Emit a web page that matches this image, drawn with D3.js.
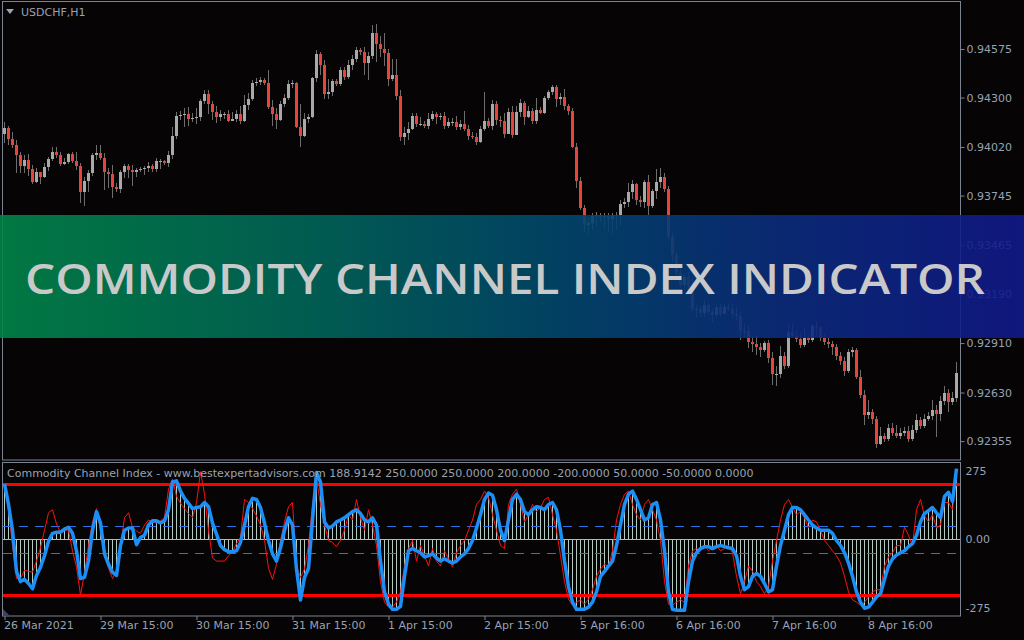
<!DOCTYPE html>
<html>
<head>
<meta charset="utf-8">
<script src="https://cdn.jsdelivr.net/npm/d3@7/dist/d3.min.js"></script>
<style>
  html, body { margin: 0; padding: 0; background: #060404; overflow: hidden; }
  svg { display: block; }
</style>
</head>
<body>
<script>
// ---- data (prices in points, 1 point = 0.00001) ----
const symbol = "USDCHF,H1";
const firstOpen = 94093;
const closes = [
  94128, 94065, 94032, 93975, 93912, 93946, 93895, 93822, 93879, 93850,
  93906, 93952, 93992, 93975, 93923, 93935, 93980, 93940, 93912, 93766,
  93827, 93873, 93975, 93986, 93958, 93879, 93867, 93793, 93782, 93879,
  93912, 93890, 93879, 93890, 93895, 93901, 93912, 93895, 93940, 93940,
  93929, 93975, 94082, 94195, 94201, 94206, 94178, 94184, 94189, 94280,
  94320, 94263, 94218, 94189, 94206, 94206, 94167, 94178, 94206, 94167,
  94258, 94292, 94382, 94388, 94399, 94382, 94246, 94206, 94173, 94263,
  94298, 94376, 94382, 94133, 94082, 94178, 94189, 94411, 94546, 94484,
  94320, 94332, 94393, 94376, 94456, 94416, 94484, 94518, 94569, 94558,
  94495, 94535, 94665, 94603, 94575, 94552, 94405, 94428, 94309, 94076,
  94099, 94122, 94195, 94150, 94150, 94139, 94178, 94206, 94189, 94195,
  94139, 94162, 94162, 94133, 94150, 94122, 94082, 94076, 94049, 94122,
  94167, 94139, 94263, 94173, 94167, 94093, 94218, 94088, 94218, 94269,
  94189, 94223, 94167, 94229, 94212, 94298, 94332, 94359, 94292, 94303,
  94252, 94223, 94020, 93827, 93675, 93579, 93590, 93629, 93635, 93623,
  93629, 93612, 93635, 93635, 93697, 93709, 93766, 93810, 93720, 93709,
  93822, 93686, 93771, 93822, 93850, 93782, 93510, 93409, 93307, 93239,
  93284, 93227, 93103, 93103, 93080, 93126, 93086, 93069, 93114, 93074,
  93114, 93103, 93074, 93063, 92978, 92978, 92917, 92905, 92888, 92871,
  92911, 92826, 92735, 92735, 92837, 92780, 92973, 92950, 92933, 92900,
  92939, 92928, 93007, 93001, 92939, 92917, 92905, 92888, 92837, 92808,
  92752, 92860, 92871, 92718, 92617, 92503, 92520, 92480, 92339, 92384,
  92367, 92430, 92401, 92384, 92401, 92412, 92367, 92418, 92475, 92441,
  92480, 92497, 92531, 92508, 92582, 92628, 92577, 92600, 92741
];
const highs = [
  94162, 94139, 94105, 94060, 93992, 93975, 93980, 93918, 93901, 93879,
  93929, 93963, 94020, 94020, 93992, 93958, 93986, 93992, 93992, 93929,
  93850, 93890, 93986, 94032, 94032, 93986, 93901, 93918, 93816, 93890,
  93923, 93923, 93918, 93901, 93906, 93912, 93935, 93923, 93958, 93952,
  93946, 93997, 94133, 94218, 94223, 94241, 94246, 94212, 94241, 94292,
  94343, 94343, 94280, 94252, 94229, 94218, 94229, 94218, 94229, 94252,
  94315, 94326, 94399, 94411, 94416, 94411, 94456, 94286, 94241, 94280,
  94320, 94399, 94399, 94388, 94263, 94212, 94206, 94416, 94569, 94558,
  94512, 94405, 94405, 94405, 94472, 94472, 94512, 94541, 94586, 94581,
  94586, 94558, 94711, 94716, 94648, 94665, 94575, 94518, 94518, 94343,
  94133, 94162, 94212, 94212, 94189, 94167, 94212, 94223, 94218, 94212,
  94218, 94184, 94184, 94195, 94173, 94223, 94145, 94105, 94099, 94139,
  94332, 94184, 94286, 94280, 94195, 94212, 94241, 94252, 94252, 94292,
  94280, 94252, 94241, 94298, 94246, 94309, 94343, 94371, 94371, 94326,
  94348, 94263, 94241, 94043, 93850, 93692, 93618, 93646, 93652, 93646,
  93646, 93646, 93646, 93652, 93720, 93732, 93816, 93833, 93816, 93743,
  93833, 93862, 93782, 93895, 93901, 93873, 93799, 93533, 93426, 93335,
  93301, 93313, 93284, 93126, 93120, 93154, 93137, 93109, 93137, 93131,
  93131, 93137, 93131, 93114, 93086, 93024, 93007, 92950, 92956, 92911,
  92922, 92928, 92860, 92780, 92894, 92860, 93018, 93018, 92984, 92967,
  92996, 92956, 93018, 93030, 92990, 92961, 92939, 92922, 92905, 92860,
  92831, 92877, 92888, 92883, 92758, 92645, 92588, 92537, 92497, 92435,
  92401, 92452, 92458, 92447, 92430, 92435, 92441, 92447, 92508, 92491,
  92508, 92520, 92588, 92560, 92611, 92667, 92650, 92634, 92803
];
const lows = [
  94043, 94032, 94015, 93873, 93873, 93873, 93856, 93810, 93816, 93810,
  93845, 93884, 93940, 93958, 93912, 93918, 93923, 93929, 93890, 93703,
  93686, 93766, 93856, 93946, 93946, 93777, 93788, 93732, 93766, 93760,
  93845, 93845, 93799, 93850, 93879, 93862, 93879, 93879, 93879, 93895,
  93918, 93906, 93952, 94065, 94173, 94133, 94139, 94162, 94150, 94167,
  94263, 94206, 94173, 94156, 94167, 94178, 94162, 94167, 94162, 94150,
  94162, 94229, 94280, 94365, 94371, 94371, 94235, 94139, 94122, 94167,
  94246, 94286, 94354, 94128, 94020, 94076, 94156, 94184, 94388, 94428,
  94292, 94292, 94309, 94365, 94365, 94399, 94405, 94456, 94501, 94541,
  94428, 94399, 94518, 94501, 94529, 94478, 94365, 94393, 94286, 94054,
  94032, 94060, 94116, 94133, 94139, 94128, 94122, 94167, 94150, 94173,
  94122, 94128, 94139, 94116, 94116, 94110, 94060, 94065, 94032, 94043,
  94110, 94128, 94116, 94145, 94133, 94071, 94128, 94071, 94105, 94189,
  94145, 94184, 94150, 94150, 94206, 94206, 94286, 94315, 94246, 94258,
  94229, 94201, 94015, 93788, 93663, 93539, 93522, 93550, 93573, 93596,
  93562, 93539, 93527, 93550, 93579, 93675, 93680, 93726, 93692, 93680,
  93675, 93635, 93675, 93726, 93788, 93766, 93488, 93369, 93284, 93222,
  93216, 93199, 93086, 93052, 93058, 93058, 93069, 93030, 93058, 93058,
  93086, 93091, 93052, 93041, 92928, 92939, 92883, 92860, 92843, 92831,
  92860, 92797, 92673, 92667, 92713, 92763, 92769, 92939, 92917, 92883,
  92888, 92911, 92917, 92956, 92922, 92900, 92883, 92843, 92814, 92786,
  92724, 92741, 92831, 92707, 92600, 92447, 92480, 92452, 92317, 92334,
  92350, 92356, 92384, 92373, 92367, 92384, 92350, 92356, 92401, 92424,
  92430, 92469, 92475, 92378, 92469, 92560, 92520, 92560, 92577
];

// CCI: smoothed line (blue, also the histogram) and raw line (red)
const cciMain = [
  200, 126, 33, -115, -152, -144, -159, -178, -130, -100,
  -59, -7, 22, 26, 26, 37, 44, 22, -41, -141,
  -137, -78, 33, 100, 59, -52, -89, -118, -130, -22,
  33, 41, 41, -19, 7, 15, 52, 67, 67, 59,
  67, 107, 207, 211, 174, 148, 130, 111, 115, 118,
  133, 118, 59, 19, -22, -37, -44, -44, -41, -11,
  52, 118, 148, 144, 115, 59, -4, -52, -78, -30,
  33, 78, 52, -107, -218, -137, -104, 70, 241, 207,
  63, 41, 48, 63, 70, 78, 89, 100, 107, 93,
  70, 63, 78, 52, -78, -189, -233, -252, -252, -241,
  -133, -41, -33, -41, -48, -63, -59, -52, -67, -78,
  -70, -78, -85, -78, -63, -52, -33, -4, 41, 89,
  144, 167, 159, 107, 33, -4, 70, 144, 163, 144,
  100, 89, 107, 118, 115, 107, 126, 133, 107, 33,
  -78, -170, -226, -252, -252, -252, -244, -226, -189, -133,
  -115, -96, -78, -22, 52, 126, 163, 174, 144, 107,
  70, 78, 126, 133, 70, -41, -189, -252, -255, -255,
  -255, -152, -78, -48, -33, -26, -26, -33, -26, -22,
  -26, -30, -33, -59, -133, -181, -170, -133, -122, -133,
  -159, -189, -181, -96, -22, 33, 89, 115, 115, 107,
  89, 70, 52, 41, 33, 33, 33, 22, -4, -22,
  -48, -85, -133, -189, -226, -248, -244, -226, -207, -196,
  -144, -96, -70, -56, -48, -41, -26, -15, 15, 63,
  93, 104, 115, 96, 78, 155, 170, 137, 255
];
const cciRaw = [
  200, 107, -22, -141, -141, -111, -115, -118, -78, -30,
  33, 96, 107, 56, 22, 33, 33, -41, -100, -200,
  -122, -22, 63, 111, 33, -59, -104, -141, -115, -22,
  78, 96, 44, 30, 22, 52, 70, 63, 59, 67,
  78, 181, 218, 155, 130, 111, 93, 78, 133, 244,
  163, 33, -67, -78, -78, -78, -59, -44, -15, 7,
  144, 133, 111, 85, 52, -4, -104, -144, -89, -4,
  63, 118, 133, -96, -137, -107, -22, 126, 218, 126,
  52, -4, -11, -26, -4, 33, 89, 70, 144, 78,
  33, 107, 52, -22, -152, -226, -244, -244, -226, -189,
  -96, -33, -4, -78, -22, -59, -96, -33, -78, -96,
  -41, -70, -100, -48, -22, -4, 33, 70, 126, 144,
  174, 152, 89, 33, -22, -33, 126, 163, 181, 126,
  63, 89, 126, 100, 115, 144, 152, 89, 33, -59,
  -152, -215, -237, -226, -218, -233, -215, -181, -133, -107,
  -89, -100, -41, 70, 126, 163, 174, 126, 89, 70,
  126, 144, 107, 70, -4, -152, -233, -237, -226, -218,
  -226, -96, -41, -33, -41, -22, -41, -30, -22, -41,
  -33, -22, -48, -133, -196, -152, -96, -115, -152, -170,
  -196, -170, -78, -4, 70, 126, 144, 115, 89, 100,
  78, 41, 70, 63, 33, -4, -22, -41, -59, -85,
  -133, -189, -218, -226, -237, -226, -207, -189, -181, -181,
  -96, -63, -48, -22, -22, 44, 15, -22, 107, 144,
  85, 63, 89, 41, 52, 133, 133, 107, 248
];

const priceTicks = [0.94575, 0.94300, 0.94020, 0.93745, 0.93465, 0.93190, 0.92910, 0.92630, 0.92355];
const cciTicks = [275, 0, -275];
const cciTickLabels = ["275", "0.00", "-275"];
const outerLevels = [200, -200];
const innerLevels = [50, -50];
const timeTickIdx = [0, 24, 48, 72, 96, 120, 144, 168, 192, 216];
const timeTickLabels = ["26 Mar 2021", "29 Mar 15:00", "30 Mar 15:00", "31 Mar 15:00", "1 Apr 15:00",
  "2 Apr 15:00", "5 Apr 16:00", "6 Apr 16:00", "7 Apr 16:00", "8 Apr 16:00"];
const cciLegend = "Commodity Channel Index - www.bestexpertadvisors.com 188.9142 250.0000 250.0000 200.0000 -200.0000 50.0000 -50.0000 0.0000";
const bannerText = "COMMODITY CHANNEL INDEX INDICATOR";

// ---- build ----
const width = 1024, height = 640;
const frameCol = "#7d8491", textCol = "#98a2b3";
const font = "DejaVu Sans";

const bars = closes.map((c, i) => ({
  i,
  open: (i === 0 ? firstOpen : closes[i - 1]) / 1e5,
  close: c / 1e5,
  high: highs[i] / 1e5,
  low: lows[i] / 1e5
}));

const x = d3.scaleLinear().domain([0, closes.length - 1]).range([4, 956]);
const y = d3.scaleLinear().domain([0.92248, 0.94841]).range([460, 2]);
const yc = d3.scaleLinear().domain([-276, 279]).range([616, 462]);
const crisp = v => Math.round(v) + 0.5;

const svg = d3.select("body").append("svg")
  .attr("width", width).attr("height", height)
  .attr("viewBox", [0, 0, width, height])
  .style("background", "#060404");

// frames
svg.append("rect").attr("x", 2.5).attr("y", 1.5).attr("width", 958).attr("height", 458.5)
  .attr("fill", "none").attr("stroke", frameCol);
svg.append("rect").attr("x", 2.5).attr("y", 462.5).attr("width", 958).attr("height", 153.5)
  .attr("fill", "none").attr("stroke", frameCol);

// symbol header
svg.append("path").attr("d", "M6,9 L14,9 L10,14 Z").attr("fill", "#9aa3b0");
svg.append("text").attr("x", 21).attr("y", 16)
  .attr("font-family", font).attr("font-size", 11).attr("fill", textCol)
  .text(symbol);

// candles
const candles = svg.append("g").attr("shape-rendering", "crispEdges");
candles.selectAll("line").data(bars).join("line")
  .attr("x1", d => x(d.i) + 0.5).attr("x2", d => x(d.i) + 0.5)
  .attr("y1", d => y(d.high)).attr("y2", d => y(d.low))
  .attr("stroke", "#6d6d6d").attr("stroke-width", 1);
candles.selectAll("rect").data(bars).join("rect")
  .attr("x", d => x(d.i) - 1).attr("width", 3)
  .attr("y", d => y(Math.max(d.open, d.close)))
  .attr("height", d => Math.max(1, Math.abs(y(d.open) - y(d.close))))
  .attr("fill", d => d.close >= d.open ? "#a9a9a9" : "#e5453a");

// price axis
const pAxis = svg.append("g").attr("transform", "translate(960.5,0)")
  .call(d3.axisRight(y).tickValues(priceTicks).tickSize(4).tickPadding(2).tickFormat(d3.format(".5f")));
pAxis.select(".domain").remove();
pAxis.selectAll("line").attr("stroke", frameCol);
pAxis.selectAll("text").attr("font-family", font).attr("font-size", 11).attr("fill", textCol);

// ---- CCI sub window ----
const sub = svg.append("g");
sub.append("g").attr("shape-rendering", "crispEdges")
  .selectAll("line").data(cciMain).join("line")
  .attr("x1", (d, i) => x(i) + 0.5).attr("x2", (d, i) => x(i) + 0.5)
  .attr("y1", crisp(yc(0))).attr("y2", d => yc(d))
  .attr("stroke", "#b4c9c0").attr("stroke-width", 1);

sub.append("line").attr("x1", 3).attr("x2", 960).attr("y1", crisp(yc(0))).attr("y2", crisp(yc(0)))
  .attr("stroke", "#6fe39c").attr("stroke-width", 1);

sub.selectAll(".inner").data(innerLevels).join("line").attr("class", "inner")
  .attr("x1", 3).attr("x2", 960).attr("y1", d => crisp(yc(d))).attr("y2", d => crisp(yc(d)))
  .attr("stroke", "#2c6fe6").attr("stroke-width", 1).attr("stroke-dasharray", "9,7");

sub.selectAll(".outer").data(outerLevels).join("line").attr("class", "outer")
  .attr("x1", 3).attr("x2", 960).attr("y1", d => crisp(yc(d))).attr("y2", d => crisp(yc(d)))
  .attr("stroke", "#ff0000").attr("stroke-width", 3);

const cciLine = d3.line().x((d, i) => x(i) + 0.5).y(d => yc(d));
sub.append("path").datum(cciRaw).attr("d", cciLine)
  .attr("fill", "none").attr("stroke", "#ff1010").attr("stroke-width", 1);
sub.append("path").datum(cciMain).attr("d", cciLine)
  .attr("fill", "none").attr("stroke", "#1b8ff5").attr("stroke-width", 3.5)
  .attr("stroke-linejoin", "round");

sub.append("text").attr("x", 7).attr("y", 477)
  .attr("font-family", font).attr("font-size", 11).attr("fill", textCol)
  .text(cciLegend);

sub.append("path").attr("d", "M3,609 L3,615 L9,615 Z").attr("fill", "#3b4466");

// cci axis
const cAxis = svg.append("g").attr("transform", "translate(960.5,0)");
cAxis.selectAll("text").data(cciTicks).join("text")
  .attr("x", 5)
  .attr("y", (d, i) => yc(d) + (d > 0 ? 8 : d < 0 ? -8 : 0))
  .attr("dy", "0.35em")
  .attr("font-family", font).attr("font-size", 11).attr("fill", textCol)
  .text((d, i) => cciTickLabels[i]);

// time axis
const tAxis = svg.append("g").attr("transform", "translate(0.5,616)")
  .call(d3.axisBottom(x).tickValues(timeTickIdx).tickSize(4).tickFormat((d, i) => timeTickLabels[i]));
tAxis.select(".domain").remove();
tAxis.selectAll("line").attr("stroke", frameCol);
tAxis.selectAll("text").attr("text-anchor", "start").attr("dx", "-1").attr("dy", "0.55em")
  .attr("font-family", font).attr("font-size", 11).attr("fill", textCol);

// ---- banner ----
const grad = svg.append("defs").append("linearGradient").attr("id", "bannerGrad")
  .attr("x1", "0%").attr("x2", "100%");
[["0%", "#008549"], ["30%", "#006659"], ["52%", "#004a6a"], ["75%", "#0a2d7c"], ["100%", "#11188a"]]
  .forEach(([o, c]) => grad.append("stop").attr("offset", o).attr("stop-color", c));
svg.append("rect").attr("x", 0).attr("y", 215).attr("width", width).attr("height", 123)
  .attr("fill", "url(#bannerGrad)").attr("opacity", 0.9);
svg.append("text").attr("x", 25).attr("y", 294)
  .attr("font-family", "Open Sans").attr("font-weight", 600).attr("font-size", 42)
  .attr("textLength", 960).attr("lengthAdjust", "spacingAndGlyphs")
  .attr("fill", "#c9c9c9")
  .text(bannerText);
</script>
</body>
</html>
